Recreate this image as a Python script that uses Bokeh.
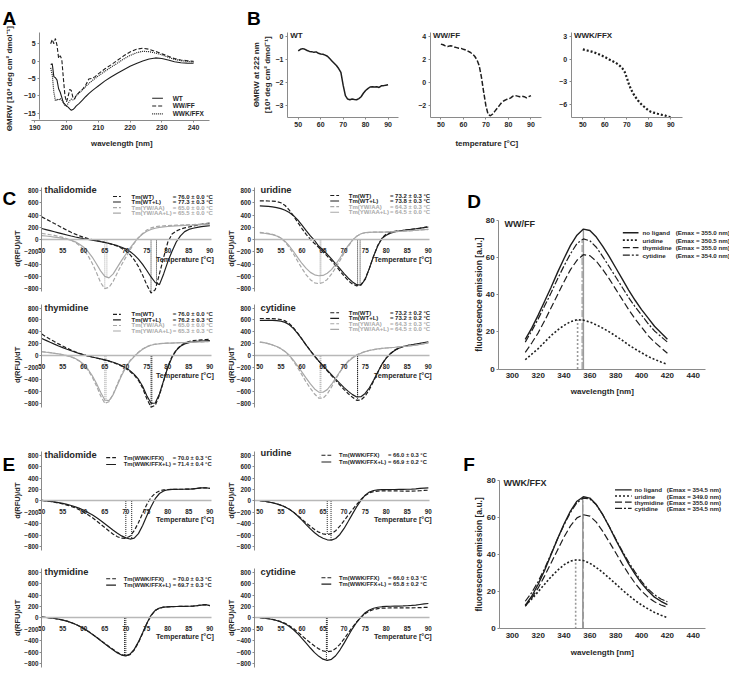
import math
from bokeh.plotting import figure
from bokeh.layouts import column, row
from bokeh.models import Range1d, Label, Arrow
from bokeh.embed import file_html
from bokeh.resources import INLINE

# ---------------- DATA ----------------
# A: CD spectra (wavelength nm, theta 10^3)
A_nm = [195, 195.5, 196, 196.5, 197, 197.5, 198, 198.5, 199, 199.5, 200, 200.5, 201, 201.5, 202, 202.5, 203,
        204, 205, 206, 207, 208, 209, 210, 212, 214, 216, 218, 220, 222, 224, 226, 228, 230, 232, 234, 236, 238, 240]
A_WT = [-1.0, -0.8, -4.5, -4.8, -5.5, -8.0, -9.0, -10.5, -12.0, -12.5, -13.0, -13.3, -13.8, -14.2, -14.0, -13.6, -13.0,
        -12.2, -11.3, -10.3, -9.4, -8.6, -7.9, -7.2, -5.8, -4.6, -3.5, -2.5, -1.5, -0.7, 0.0, 0.6, 0.9, 0.75, 0.3, -0.2, -0.5, -0.6, -0.65]
A_WWFF = [5.0, 6.2, 5.0, 6.5, 4.5, 0.8, 1.5, 0.5, -5.0, -10.0, -11.8, -10.2, -8.2, -8.5, -10.5, -11.0, -10.0,
          -9.0, -8.2, -7.0, -5.2, -5.0, -4.5, -3.7, -2.3, -1.1, 0.2, 1.5, 2.6, 3.4, 3.7, 3.4, 2.8, 2.1, 1.4, 0.7, 0.3, 0.1, -0.1]
A_WWKFFX = [-2.0, -4.0, -9.0, -11.5, -11.0, -11.3, -10.8, -11.2, -12.0, -12.8, -13.0, -12.2, -11.5, -11.0, -11.2, -10.8, -10.0,
            -9.2, -8.3, -7.4, -6.5, -5.7, -5.0, -4.3, -3.0, -1.8, -0.6, 0.6, 1.6, 2.4, 2.8, 2.7, 2.3, 1.8, 1.1, 0.5, 0.1, -0.1, -0.3]
A_names = ["WT", "WW/FF", "WWK/FFX"]

# B: thermal melts at 222 nm
B_T = list(range(50, 91))
B_WT = [-0.62, -0.55, -0.52, -0.55, -0.60, -0.64, -0.65, -0.68, -0.66, -0.72,
        -0.75, -0.76, -0.80, -0.85, -0.95, -1.05, -1.15, -1.25, -1.38, -1.55,
        -2.10, -2.55, -2.70, -2.73, -2.70, -2.72, -2.73, -2.68, -2.60, -2.45,
        -2.33, -2.25, -2.18, -2.17, -2.18, -2.17, -2.20, -2.13, -2.12, -2.10, -2.08]
B_WWFF = [3.35, 3.30, 3.20, 3.15, 3.20, 3.18, 3.10, 3.05, 3.00, 2.98,
          2.90, 2.85, 2.75, 2.65, 2.50, 2.30, 2.00, 1.50, 0.50, -0.80,
          -2.00, -2.75, -2.85, -2.70, -2.45, -2.20, -1.95, -1.70, -1.55, -1.45,
          -1.40, -1.30, -1.15, -1.10, -1.15, -1.20, -1.15, -1.20, -1.30, -1.20, -1.10]
B_WWKFFX = [1.30, 1.22, 1.15, 1.08, 1.00, 0.90, 0.80, 0.68, 0.55, 0.42,
            0.28, 0.12, -0.05, -0.20, -0.35, -0.50, -0.70, -0.95, -1.25, -1.70,
            -2.50, -3.40, -4.10, -4.65, -5.10, -5.50, -5.85, -6.15, -6.40, -6.65,
            -6.90, -7.05, -7.15, -7.20, -7.30, -7.35, -7.45, -7.50, -7.60, -7.70, -7.75]

# C / E: d(RFU)/dT
T = list(range(50, 91))
C_names = ["Tm(WT)", "Tm(WT+L)", "Tm(YW/AA)", "Tm(YW/AA+L)"]
thal_WT = [370, 335, 300, 262, 225, 188, 152, 118, 88, 60, 36, 16, 0, -15, -30, -46, -64, -85, -110, -142,
           -185, -245, -330, -440, -580, -740, -870, -820, -560, -290, -40, 90, 140, 170, 190, 205, 220, 235, 250, 262, 270]
thal_WTL = [180, 163, 146, 128, 110, 92, 75, 58, 42, 28, 15, 3, -9, -21, -34, -48, -63, -80, -100, -125,
            -155, -195, -250, -320, -405, -505, -610, -700, -735, -560, -360, -190, -40, 60, 130, 165, 185, 200, 210, 218, 225]
thal_YW = [100, 90, 79, 67, 53, 35, 14, -12, -48, -98, -168, -262, -385, -535, -700, -800, -780, -680, -540, -410,
           -290, -170, -60, 30, 100, 155, 190, 208, 218, 224, 228, 231, 234, 237, 240, 243, 246, 249, 252, 255, 258]
thal_YWL = [65, 58, 50, 41, 31, 19, 5, -12, -38, -75, -125, -195, -285, -395, -510, -600, -625, -560, -450, -340,
            -240, -140, -50, 30, 90, 135, 165, 185, 198, 207, 213, 218, 222, 226, 230, 233, 236, 240, 244, 248, 252]
thal_Tm = [76.0, 77.3, 65.0, 65.5]
thal_err = [0.0, 0.3, 0.0, 0.0]

uri_WT = [630, 630, 629, 627, 620, 600, 555, 480, 385, 280, 180, 85, 5, -65, -130, -200, -270, -345, -425, -510,
          -595, -670, -725, -755, -735, -640, -470, -270, -95, 25, 90, 120, 135, 145, 152, 160, 168, 175, 185, 198, 212]
uri_WTL = [550, 545, 540, 533, 522, 505, 478, 440, 390, 320, 235, 145, 60, -15, -110, -170, -240, -315, -395, -475,
           -555, -630, -690, -735, -745, -650, -470, -270, -100, 20, 70, 105, 125, 140, 150, 160, 168, 176, 186, 196, 205]
uri_YW = [118, 110, 100, 86, 62, 25, -40, -130, -235, -355, -470, -575, -655, -705, -720, -700, -650, -565, -460, -345,
          -220, -110, -10, 55, 95, 112, 118, 120, 120, 120, 122, 125, 128, 132, 136, 140, 145, 150, 155, 160, 165]
uri_YWL = [110, 103, 93, 80, 58, 25, -30, -105, -195, -295, -390, -470, -535, -575, -590, -585, -550, -490, -405, -305,
           -195, -95, -10, 55, 95, 112, 118, 120, 121, 122, 124, 127, 130, 134, 138, 142, 147, 152, 157, 162, 167]
uri_Tm = [73.2, 73.8, 64.3, 64.5]
uri_err = [0.3, 0.3, 0.3, 0.0]

thy_WT = [365, 320, 278, 238, 200, 163, 128, 96, 66, 40, 17, -3, -20, -36, -52, -70, -90, -113, -140, -172,
          -212, -262, -325, -410, -540, -720, -860, -830, -660, -420, -180, -10, 100, 170, 215, 240, 255, 262, 268, 272, 275]
thy_WTL = [290, 258, 226, 195, 165, 137, 110, 85, 60, 37, 16, -3, -20, -36, -52, -68, -86, -108, -133, -163,
           -200, -248, -310, -392, -510, -670, -795, -790, -640, -415, -190, -25, 90, 160, 200, 222, 235, 242, 248, 252, 255]
thy_YW = [70, 62, 53, 43, 32, 19, 3, -18, -48, -92, -155, -240, -355, -500, -670, -795, -770, -640, -470, -310,
          -180, -80, -5, 60, 115, 155, 180, 195, 203, 208, 212, 215, 218, 220, 223, 225, 228, 231, 234, 237, 240]
thy_YWL = [68, 60, 52, 42, 31, 18, 2, -18, -46, -88, -146, -225, -330, -460, -610, -740, -750, -650, -490, -330,
           -195, -90, -12, 55, 110, 150, 177, 193, 202, 207, 211, 214, 217, 220, 222, 225, 228, 231, 234, 237, 240]
thy_Tm = [76.0, 76.2, 65.0, 65.3]
thy_err = [0.0, 0.3, 0.0, 0.3]

cyt_WT = [625, 625, 624, 622, 618, 608, 585, 540, 470, 380, 280, 180, 85, -5, -90, -170, -250, -330, -410, -490,
          -565, -635, -695, -745, -740, -675, -565, -425, -280, -140, -35, 40, 95, 132, 156, 172, 184, 194, 204, 214, 225]
cyt_WTL = [595, 595, 594, 592, 588, 580, 560, 520, 455, 372, 278, 180, 85, -5, -88, -165, -240, -315, -390, -462,
           -532, -595, -650, -690, -685, -630, -535, -410, -272, -138, -38, 36, 90, 128, 154, 170, 184, 196, 208, 220, 232]
cyt_YW = [230, 220, 204, 182, 155, 120, 70, 0, -90, -203, -320, -440, -545, -640, -710, -710, -640, -525, -395, -272,
          -165, -85, -27, 16, 48, 72, 90, 104, 115, 124, 131, 137, 143, 150, 156, 163, 171, 180, 190, 203, 218]
cyt_YWL = [230, 220, 204, 182, 155, 120, 73, 9, -75, -171, -272, -374, -470, -555, -608, -610, -566, -480, -374, -267,
           -171, -96, -37, 9, 43, 70, 89, 104, 115, 124, 131, 137, 143, 150, 156, 163, 171, 180, 190, 203, 222]
cyt_Tm = [73.2, 73.2, 64.3, 64.5]
cyt_err = [0.2, 0.2, 0.3, 0.0]

E_names = ["Tm(WWK/FFX)", "Tm(WWK/FFX+L)"]
Ethal_d = [10, 0, -10, -22, -36, -52, -72, -95, -122, -155, -195, -240, -290, -345, -405, -465, -525, -580, -625, -650,
           -652, -615, -520, -380, -215, -60, 60, 135, 175, 193, 200, 202, 203, 204, 205, 207, 212, 220, 228, 230, 220]
Ethal_s = [10, 2, -7, -17, -29, -43, -60, -80, -103, -130, -162, -200, -242, -290, -342, -398, -455, -512, -565, -610,
           -645, -665, -650, -570, -430, -260, -100, 40, 130, 175, 195, 201, 203, 204, 205, 207, 212, 220, 228, 230, 220]
Ethal_Tm = [70.0, 71.4]
Ethal_err = [0.3, 0.4]
Euri_d = [5, -5, -17, -32, -50, -75, -105, -145, -195, -255, -320, -385, -445, -500, -545, -575, -585, -570, -520, -440,
          -345, -245, -150, -60, 25, 95, 140, 163, 172, 175, 176, 176, 175, 174, 173, 172, 172, 174, 178, 183, 188]
Euri_s = [5, -5, -17, -32, -50, -74, -104, -145, -198, -262, -335, -412, -488, -556, -612, -652, -678, -683, -655, -585,
          -480, -355, -225, -100, 10, 100, 155, 182, 193, 197, 199, 200, 200, 201, 202, 204, 207, 212, 218, 224, 228]
Euri_Tm = [66.0, 66.9]
Euri_err = [0.3, 0.2]
Ethy_d = [15, 8, 0, -10, -22, -36, -55, -80, -110, -145, -185, -230, -280, -335, -390, -445, -500, -550, -600, -640,
          -662, -640, -560, -430, -270, -100, 40, 130, 172, 188, 195, 198, 200, 201, 202, 204, 208, 215, 225, 232, 215]
Ethy_s = [15, 8, 0, -10, -22, -37, -56, -81, -111, -146, -186, -232, -283, -338, -395, -452, -508, -560, -610, -648,
          -662, -632, -548, -418, -258, -92, 45, 132, 172, 188, 195, 198, 200, 201, 202, 204, 208, 215, 225, 232, 215]
Ethy_Tm = [70.0, 69.7]
Ethy_err = [0.3, 0.3]
Ecyt_d = [5, -3, -12, -25, -42, -65, -95, -135, -185, -245, -310, -375, -435, -490, -540, -575, -590, -580, -535, -460,
          -365, -260, -160, -70, 10, 75, 120, 148, 162, 170, 173, 175, 176, 176, 176, 176, 177, 178, 180, 183, 186]
Ecyt_s = [5, -3, -13, -27, -45, -70, -103, -148, -205, -275, -355, -440, -525, -605, -670, -720, -740, -722, -660, -560,
          -440, -310, -185, -75, 15, 90, 140, 170, 187, 196, 201, 204, 206, 208, 210, 213, 218, 225, 235, 245, 252]
Ecyt_Tm = [66.0, 65.8]
Ecyt_err = [0.3, 0.2]

# D / F: fluorescence emission
EM_nm = list(range(310, 421, 5))
EM_names = ["no ligand", "uridine", "thymidine", "cytidine"]
D_none = [16, 22, 29, 36.5, 44, 52, 59.5, 66.5, 72, 75.3, 74.5, 71, 66, 60.5, 54.5, 48.5, 42.5, 37, 32, 27.5, 23, 19.5, 16]
D_uri = [5, 8, 11, 14.5, 18, 21, 23.5, 25.5, 26.5, 26.3, 25.3, 23.8, 22, 20, 17.8, 15.5, 13, 10.8, 8.8, 6.8, 5.2, 3.8, 2.5]
D_thy = [9, 14, 19.5, 26, 33, 40, 47, 53.5, 58.5, 61.5, 61, 58, 53.5, 48.5, 43, 37.5, 32, 27, 22.5, 18, 14.5, 11.5, 8.5]
D_cyt = [14.5, 20.5, 27, 34, 41, 48.5, 55.5, 62, 67.5, 70, 69, 65.5, 60.5, 55, 49.5, 44, 38.5, 33.5, 29, 24.5, 20.5, 17.5, 14.5]
D_emax = [355.0, 350.5, 355.0, 354.0]
F_none = [12.5, 17.5, 24, 31.5, 40, 48.5, 56.5, 63.5, 68.8, 71.2, 70.5, 67, 61.5, 55, 48, 41.5, 35, 29.5, 24.5, 20.5, 17, 14.8, 13]
F_uri = [12.5, 16, 20, 24, 28, 31.5, 34.5, 36.5, 37.2, 36.8, 35.3, 33, 30.3, 27.3, 24.2, 21, 18, 15.2, 12.8, 10.7, 8.8, 7.3, 6]
F_thy = [12, 16.5, 22, 28.5, 35.5, 42.5, 49.5, 55.5, 59.8, 61.5, 60.8, 57.5, 52.5, 46.8, 41, 35, 29.5, 24.5, 20.3, 17, 14.5, 12.8, 11.5]
F_cyt = [14.8, 19.5, 25.5, 32.5, 40.5, 48.5, 56, 62.8, 68, 70.5, 70, 66.8, 61.5, 55.2, 48.5, 42, 36, 30.5, 25.5, 21.5, 18.3, 16, 14.5]
F_emax = [354.5, 349.0, 355.0, 354.5]

A_xticks = [190, 200, 210, 220, 230, 240]
A_yticks = [5, 0, -5, -10, -15]
B_xticks = [50, 60, 70, 80, 90]
T_ticks = [50, 55, 60, 65, 70, 75, 80, 85, 90]
D_ticks = [-800, -600, -400, -200, 0, 200, 400, 600, 800]
EM_xticks = [300, 320, 340, 360, 380, 400, 420, 440]
EM_yticks = [0, 20, 40, 60, 80]

# ---------------- STYLE / LAYOUT ----------------
SX = 729 / 745
SY = 674 / 690
FONT = "Liberation Sans"
INK = "#262626"
AXC = "#8a8a8a"
DARK = "#1e1e1e"
LIGHT = "#a8a8a8"
ZERO = "#b8b8b8"
UP = math.pi / 2
LETTER = 19


def X(v):
    return int(round(v * SX))


def Y(v):
    return int(round(v * SY))


class Pan:
    """A figure whose plot frame covers its whole box; axes are pinned with fixed_location."""

    def __init__(self, box, xm, ym, fs=7):
        x0, y0, x1, y1 = box
        self.xm, self.ym = xm, ym
        self.ox, self.oy = X(x0), Y(y0)
        self.W, self.H = X(x1) - X(x0), Y(y1) - Y(y0)
        p = figure(width=self.W, height=self.H,
                   x_range=Range1d(self.xv(x0), self.xv(x1)),
                   y_range=Range1d(self.yv(y1), self.yv(y0)),
                   output_backend="svg", toolbar_location=None, min_border=0)
        p.title.visible = False
        p.outline_line_color = None
        p.xgrid.visible = False
        p.ygrid.visible = False
        p.border_fill_color = "white"
        for ax in p.axis:
            ax.axis_line_color = AXC
            ax.axis_line_width = 1
            ax.major_tick_line_color = AXC
            ax.major_tick_out = 2
            ax.major_tick_in = 0
            ax.minor_tick_line_color = None
            ax.major_label_text_font = FONT
            ax.major_label_text_font_size = f"{fs}px"
            ax.major_label_text_font_style = "bold"
            ax.major_label_text_color = INK
            ax.major_label_standoff = 2
        self.p = p

    def xv(self, px):
        return self.xm[1] + (px - self.xm[0]) / self.xm[2]

    def yv(self, py):
        return self.ym[1] + (self.ym[0] - py) / self.ym[2]

    def pin(self, xaxis_py, xspan, yaxis_px, yspan):
        xa, ya = self.p.xaxis[0], self.p.yaxis[0]
        xa.fixed_location = self.yv(xaxis_py)
        xa.bounds = (self.xv(xspan[0]), self.xv(xspan[1]))
        ya.fixed_location = self.xv(yaxis_px)
        ya.bounds = (self.yv(yspan[1]), self.yv(yspan[0]))
        return xa, ya

    def sx(self, xr):
        return xr * SX - self.ox

    def sy(self, yr):
        return self.H - (yr * SY - self.oy)

    def text(self, txt, xr, yr, size, align="left", baseline="middle", angle=0.0, color=INK, bold=True):
        self.p.add_layout(Label(x=self.sx(xr), y=self.sy(yr), x_units="screen", y_units="screen",
                                text=txt, text_font=FONT, text_font_size=f"{size}px",
                                text_font_style="bold" if bold else "normal", text_color=color,
                                text_align=align, text_baseline=baseline, angle=angle))

    def seg(self, xr0, xr1, yr, color, dash, width):
        self.p.add_layout(Arrow(end=None, x_start=self.sx(xr0), y_start=self.sy(yr),
                                x_end=self.sx(xr1), y_end=self.sy(yr),
                                start_units="screen", end_units="screen",
                                line_color=color, line_dash=dash, line_width=width))


# ---- A ----
pa = Pan((0, 0, 250, 170), (35, 190, 3.24), (62, 0, 3.55))
xa, ya = pa.pin(123, (32, 213), 40, (33, 122))
xa.ticker = A_xticks
ya.ticker = A_yticks
A_styles = [("solid", 1.1), ("4 2", 1.1), ("1 1", 1.2)]
for vals, (dash, w) in zip([A_WT, A_WWFF, A_WWKFFX], A_styles):
    pa.p.line(A_nm, vals, line_color=DARK, line_dash=dash, line_width=w)
for i, (nm, (dash, w)) in enumerate(zip(A_names, A_styles)):
    yy = 100 + 8 * i
    pa.seg(155, 166, yy, DARK, dash, w)
    pa.text(nm, 176, yy, 6.5)
pa.text("A", 2, 18, LETTER, baseline="alphabetic", color="black")
pa.text("\u0398MRW [10\u00b3 deg cm\u00b2 dmol\u207b\u00b9]", 9, 80, 8, align="center", angle=UP)
pa.text("wavelength [nm]", 124, 146, 7.8, align="center")

# ---- B ----
B_series = [(B_WT, "solid", 1.5), (B_WWFF, "5 2", 1.5), (B_WWKFFX, "2 2", 2.2)]
B_boxes = [(250, 0, 420, 170), (420, 0, 565, 170), (565, 0, 745, 170)]
B_xm = [(304, 50, 2.3), (450, 50, 2.3), (595, 50, 2.25)]
B_ym = [(37, 0, 23.67), (37, 4, 11.83), (37, 3, 7.667)]
B_axis_x = [293, 439, 583]
B_yt = [[0, -1, -2, -3], [4, 2, 0, -2], [3, 0, -3, -6]]
B_pans = []
for k in range(3):
    pb = Pan(B_boxes[k], B_xm[k], B_ym[k])
    xa, ya = pb.pin(120, (B_axis_x[k], B_axis_x[k] + 114), B_axis_x[k], (33, 120))
    xa.ticker = B_xticks
    ya.ticker = B_yt[k]
    vals, dash, w = B_series[k]
    pb.p.line(B_T, vals, line_color=DARK, line_dash=dash, line_width=w)
    pb.text(A_names[k], B_axis_x[k] + 3, 36, 8)
    B_pans.append(pb)
B_pans[0].text("B", 252, 18, LETTER, baseline="alphabetic", color="black")
B_pans[0].text("\u0398MRW at 222 nm", 262, 76, 8, align="center", angle=UP)
B_pans[0].text("[10\u00b3 deg cm\u00b2 dmol\u207b\u00b9]", 272.5, 76, 8, align="center", angle=UP)
B_pans[1].text("temperature [\u00b0C]", 497, 146, 8, align="center")


# ---- thermal shift panels (C / E) ----
def thermal(box, xm, ym, yaxis_px, yspan, xend_px, title, title_xy, ylab_xy, temp_xy, series, leg, lfs=6):
    pan = Pan(box, xm, ym, fs=6.3)
    p = pan.p
    xa, ya = pan.pin(ym[0], (yaxis_px, xend_px), yaxis_px, yspan)
    xa.ticker = T_ticks
    xa.axis_line_color = ZERO
    xa.axis_line_width = 1.6
    xa.major_tick_out = 0
    xa.major_label_standoff = 8
    ya.ticker = D_ticks
    ya.major_label_standoff = 1
    for vals, tm, err, name, color, dash in series:
        p.segment(x0=[tm], y0=[0], x1=[tm], y1=[min(vals)], line_color=color, line_dash="1 1", line_width=1)
    for vals, tm, err, name, color, dash in series:
        p.line(T, vals, line_color=color, line_dash=dash, line_width=1.2)
    pan.text(title, title_xy[0], title_xy[1], 9.3)
    pan.text("d(RFU)/dT", ylab_xy[0], ylab_xy[1], 7.5, align="center", angle=UP)
    pan.text("Temperature [\u00b0C]", temp_xy[0], temp_xy[1], 7.2, align="right")
    lx0, lx1, nx, vx, ys = leg
    for (vals, tm, err, name, color, dash), yy in zip(series, ys):
        pan.seg(lx0, lx1, yy, color, dash, 1.1)
        pan.text(name, nx, yy, lfs, color=color)
        pan.text(f"= {tm:.1f} \u00b1 {err:.1f} \u00b0C", vx, yy, lfs, color=color)
    return pan


def c_series(vals, tms, errs):
    cols = [DARK, DARK, LIGHT, LIGHT]
    dashes = ["4 2", "solid", "4 2", "solid"]
    return [(vals[i], tms[i], errs[i], C_names[i], cols[i], dashes[i]) for i in range(4)]


def e_series(vals, tms, errs):
    dashes = ["4 2", "solid"]
    return [(vals[i], tms[i], errs[i], E_names[i], DARK, dashes[i]) for i in range(2)]


LXM = (42.2, 50, 4.3)
RXM = (265.2, 50, 4.3)
C1 = thermal((0, 170, 222, 307), LXM, (244.7, 0, 0.0627), 42, (191, 298), 216, "thalidomide", (45, 194),
             (17, 254), (218, 265.3), c_series([thal_WT, thal_WTL, thal_YW, thal_YWL], thal_Tm, thal_err),
             (115, 123, 134, 176, [200.7, 206.3, 212, 217.7]))
C2 = thermal((222, 170, 470, 307), RXM, (244.7, 0, 0.0627), 259.3, (191, 298), 438, "uridine", (265.7, 194),
             (236, 254), (440.7, 265.3), c_series([uri_WT, uri_WTL, uri_YW, uri_YWL], uri_Tm, uri_err),
             (337, 346, 356, 398, [199.7, 205.3, 211, 216.7]))
C3 = thermal((0, 307, 222, 450), LXM, (363.5, 0, 0.061), 42, (311, 416), 216, "thymidine", (45, 315.3),
             (17, 373), (218, 384), c_series([thy_WT, thy_WTL, thy_YW, thy_YWL], thy_Tm, thy_err),
             (115, 123, 134, 176, [321.3, 327, 332.7, 338.3]))
C4 = thermal((222, 307, 470, 450), RXM, (363.5, 0, 0.061), 259.3, (311, 416), 438, "cytidine", (265.7, 315.3),
             (236, 373), (440.7, 384), c_series([cyt_WT, cyt_WTL, cyt_YW, cyt_YWL], cyt_Tm, cyt_err),
             (337, 346, 356, 398, [319.7, 325.4, 331, 336.7]))
C1.text("C", 2, 203, LETTER, baseline="alphabetic", color="black")

E1 = thermal((0, 450, 222, 570), LXM, (512, 0, 0.05875), 42, (461, 563), 216, "thalidomide", (45, 465),
             (17, 512), (218, 531), e_series([Ethal_d, Ethal_s], Ethal_Tm, Ethal_err),
             (108, 118, 126, 176, [468, 475]), lfs=5.8)
E2 = thermal((222, 450, 470, 570), RXM, (512, 0, 0.05875), 259.3, (461, 563), 438, "uridine", (265.7, 463),
             (236, 512), (440.7, 531), e_series([Euri_d, Euri_s], Euri_Tm, Euri_err),
             (328, 338, 346, 396, [465.5, 472.5]), lfs=5.8)
E3 = thermal((0, 570, 222, 690), LXM, (632, 0, 0.05875), 42, (581, 683), 216, "thymidine", (45, 585),
             (17, 632), (218, 651), e_series([Ethy_d, Ethy_s], Ethy_Tm, Ethy_err),
             (108, 118, 126, 176, [592, 598.5]), lfs=5.8)
E4 = thermal((222, 570, 470, 690), RXM, (632, 0, 0.05875), 259.3, (581, 683), 438, "cytidine", (265.7, 585),
             (236, 632), (440.7, 651), e_series([Ecyt_d, Ecyt_s], Ecyt_Tm, Ecyt_err),
             (328, 338, 346, 396, [591, 597.5]), lfs=5.8)
E1.text("E", 2, 475, LETTER, baseline="alphabetic", color="black")

# ---- emission panels (D / F) ----
EM_styles = [("solid", 1.4), ("2 2", 1.6), ("7 3", 1.2), ("7 2 2 2", 1.2)]


def emission(box, xm, ym, yaxis_px, title, title_xy, series, emax, leg, letter, letter_xy, ylab_y, xlab_y):
    pan = Pan(box, xm, ym, fs=8)
    p = pan.p
    xa, ya = pan.pin(ym[0], (yaxis_px, 720), yaxis_px, (ym[0] - 80 * ym[2], ym[0]))
    xa.ticker = EM_xticks
    ya.ticker = EM_yticks
    xa.major_tick_out = 0
    xa.major_label_standoff = 4
    for vals, e, (dash, w) in zip(series, emax, EM_styles):
        p.segment(x0=[e], y0=[0], x1=[e], y1=[max(vals)], line_color="#9a9a9a", line_dash=dash, line_width=w)
    for vals, (dash, w) in zip(series, EM_styles):
        p.line(EM_nm, vals, line_color=DARK, line_dash=dash, line_width=w)
    pan.text(title, title_xy[0], title_xy[1], 9)
    lx0, lx1, nx, vx, ys, fs = leg
    for nm, e, (dash, w), yy in zip(EM_names, emax, EM_styles, ys):
        pan.seg(lx0, lx1, yy, DARK, dash, w)
        pan.text(nm, nx, yy, fs)
        pan.text(f"(Emax = {e:.1f} nm)", vx, yy, fs)
    pan.text(letter, letter_xy[0], letter_xy[1], LETTER, baseline="alphabetic", color="black")
    pan.text("fluorescence emission [a.u.]", 489, ylab_y, 8.5, align="center", angle=UP)
    pan.text("wavelength [nm]", 615, xlab_y, 8, align="center")
    return pan


D = emission((470, 170, 745, 450), (523, 300, 1.321), (377, 0, 1.9), 509, "WW/FF", (515, 229),
             [D_none, D_uri, D_thy, D_cyt], D_emax, (636, 652, 656, 690, [237.7, 245.3, 253, 260.7], 6.2),
             "D", (477, 206), 301, 400)
F = emission((470, 450, 745, 690), (523, 300, 1.321), (643, 0, 1.9), 510, "WWK/FFX", (514, 494),
             [F_none, F_uri, F_thy, F_cyt], F_emax, (628, 645, 648, 681, [501, 507.3, 513.6, 520], 6.2),
             "F", (473, 475), 567, 667)

layout = column(
    row(pa.p, B_pans[0].p, B_pans[1].p, B_pans[2].p),
    row(column(row(C1.p, C2.p), row(C3.p, C4.p)), D.p),
    row(column(row(E1.p, E2.p), row(E3.p, E4.p)), F.p),
)

with open("out.html", "w") as fh:
    fh.write(file_html(layout, INLINE, "Figure"))
